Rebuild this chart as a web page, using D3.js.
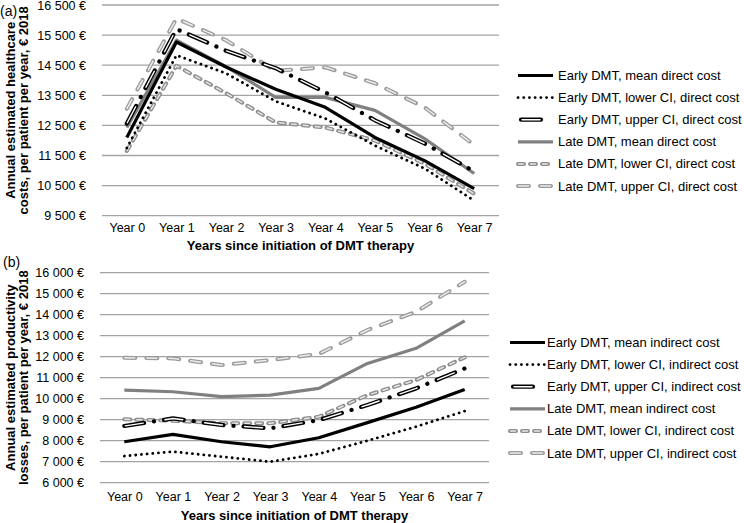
<!DOCTYPE html>
<html><head><meta charset="utf-8">
<script src="https://cdn.jsdelivr.net/npm/d3@7"></script>
<style>
body{margin:0;background:#fff;}
svg{font-family:"Liberation Sans",Arial,sans-serif;}
</style></head><body>
<svg id="c" width="744" height="523"></svg>
<script>
const years = ["Year 0","Year 1","Year 2","Year 3","Year 4","Year 5","Year 6","Year 7"];

// Panel (a): direct costs
const directTicks = [9500,10500,11500,12500,13500,14500,15500,16500];
const earlyMeanDirect  = [12100,15270,14440,13700,13100,12100,11330,10400];
const earlyLowerDirect = [11750,14830,14230,13300,12730,11830,11070,10000];
const earlyUpperDirect = [12560,15700,14980,14400,13600,12670,11900,10970];
const lateMeanDirect   = [12430,15330,14450,13430,13430,13000,12060,10900];
const lateLowerDirect  = [11650,14480,13570,12600,12430,12000,11230,10230];
const lateUpperDirect  = [13050,16050,15330,14310,14430,13900,13100,11850];

// Panel (b): indirect costs
const indirectTicks = [6000,7000,8000,9000,10000,11000,12000,13000,14000,15000,16000];
const earlyMeanIndirect  = [7950,8300,7950,7710,8140,8860,9590,10440];
const earlyLowerIndirect = [7270,7480,7240,7000,7370,8000,8670,9410];
const earlyUpperIndirect = [8700,9060,8750,8590,8980,9700,10490,11440];
const lateMeanIndirect   = [10410,10330,10100,10170,10490,11680,12400,13710];
const lateLowerIndirect  = [9020,8950,8830,8830,9140,10170,10890,11970];
const lateUpperIndirect  = [11950,11920,11600,11840,12130,13270,14140,15570];

const directLabels = ["Early DMT, mean direct cost","Early DMT, lower CI, direct cost","Early DMT, upper CI, direct cost","Late DMT, mean direct cost","Late DMT, lower CI, direct cost","Late DMT, upper CI, direct cost"];
const indirectLabels = ["Early DMT, mean indirect cost","Early DMT, lower CI, indirect cost","Early DMT, upper CI, indirect cost","Late DMT, mean indirect cost","Late DMT, lower CI, indirect cost","Late DMT, upper CI, indirect cost"];

const styles = [
  [{stroke:"#000",w:3.2}],
  [{stroke:"#000",w:2.8,dash:"0.1 5.6",cap:"round"}],
  [{stroke:"#000",w:4.2,dash:"20 10 0.1 10",cap:"round"},{stroke:"#fff",w:1.4,dash:"18 22.1",cap:"round",off:-1}],
  [{stroke:"#808080",w:3.2}],
  [{stroke:"#8c8c8c",w:4,dash:"6 6",cap:"round"},{stroke:"#e6e6e6",w:1.5,dash:"5 7",cap:"round",off:-0.5}],
  [{stroke:"#9a9a9a",w:4,dash:"11 11",cap:"round"},{stroke:"#ececec",w:1.5,dash:"10 12",cap:"round",off:-0.5}]
];
const legendSpan = [[0,35],[0,35],[3,24],[0,35],[0,35],[0,35]];

const svg = d3.select("#c");
const fmt = v => d3.format(",")(v).replace(/,/g," ") + " €";

function panel(opt){
  const x = d3.scalePoint().domain(years).range([opt.x0,opt.x1]).padding(0.5);
  const y = d3.scaleLinear().domain(opt.domain).range([opt.yb,opt.yt]);
  const g = svg.append("g");
  g.selectAll("line.grid").data(opt.ticks).join("line")
    .attr("x1",opt.x0).attr("x2",opt.x1).attr("y1",d=>y(d)).attr("y2",d=>y(d))
    .attr("stroke","#a3a3a3").attr("stroke-width",1.3);
  const ya = d3.axisLeft(y).tickValues(opt.ticks).tickFormat(fmt).tickSize(0).tickPadding(0);
  const yg = g.append("g").attr("transform",`translate(${opt.labelX},0)`).call(ya);
  yg.select(".domain").remove();
  yg.selectAll("text").attr("font-size",12.5).attr("fill","#000").attr("font-family","Liberation Sans, Arial, sans-serif");
  const xa = d3.axisBottom(x).tickSize(0).tickPadding(0);
  const xg = g.append("g").attr("transform",`translate(0,${opt.xLabelY})`).call(xa);
  xg.select(".domain").remove();
  xg.selectAll("text").attr("font-size",12.5).attr("fill","#000").attr("dy","0.35em").attr("y",0).attr("font-family","Liberation Sans, Arial, sans-serif");
  g.append("text").attr("x",(opt.x0+opt.x1)/2).attr("y",opt.xTitleY).attr("dy","0.35em")
    .attr("text-anchor","middle").attr("font-weight","bold").attr("font-size",13).text("Years since initiation of DMT therapy");
  const cy = (opt.yt+opt.yb)/2;
  opt.yTitle.forEach((t,i)=>{
    g.append("text").attr("transform",`translate(${10+i*13.5},${cy}) rotate(-90)`)
      .attr("text-anchor","middle").attr("dy","0.35em").attr("font-weight","bold").attr("font-size",13).text(t);
  });
  g.append("text").attr("x",opt.tagX).attr("y",opt.tagY).attr("dy","0.35em").attr("font-size",14).text(opt.tag);
  const line = d3.line().x((d,i)=>x(years[i])).y(d=>y(d));
  [5,4,3,2,1,0].forEach(si=>{
    styles[si].forEach(s=>{
      g.append("path").datum(opt.series[si]).attr("d",line).attr("fill","none")
        .attr("stroke",s.stroke).attr("stroke-width",s.w)
        .attr("stroke-dasharray",s.dash||null).attr("stroke-linecap",s.cap||"butt")
        .attr("stroke-dashoffset",s.off||0).attr("stroke-linejoin","round");
    });
  });
  opt.labels.forEach((lab,i)=>{
    const ly = opt.legY + i*opt.legStep;
    styles[i].forEach(s=>{
      g.append("line").attr("x1",opt.legX+legendSpan[i][0]).attr("x2",opt.legX+legendSpan[i][1]).attr("y1",ly).attr("y2",ly)
        .attr("stroke",s.stroke).attr("stroke-width",s.w)
        .attr("stroke-dasharray",s.dash||null).attr("stroke-linecap",s.cap||"butt").attr("stroke-dashoffset",s.off||0);
    });
    g.append("text").attr("x",opt.legX+opt.legText).attr("y",ly).attr("dy","0.35em").attr("font-size",13).text(lab);
  });
}

panel({x0:102,x1:499,yt:5,yb:215.7,domain:[9500,16500],ticks:directTicks,labelX:86,xLabelY:228,xTitleY:245,
  yTitle:["Annual estimated healthcare","costs, per patient per year, € 2018"],tag:"(a)",tagX:0,tagY:11,
  series:[earlyMeanDirect,earlyLowerDirect,earlyUpperDirect,lateMeanDirect,lateLowerDirect,lateUpperDirect],
  labels:directLabels,legX:518,legText:40,legY:75.5,legStep:22.1});

panel({x0:100,x1:489,yt:272.7,yb:482.7,domain:[6000,16000],ticks:indirectTicks,labelX:84,xLabelY:497,xTitleY:515,
  yTitle:["Annual estimated productivity","losses, per patient per year, € 2018"],tag:"(b)",tagX:3,tagY:262,
  series:[earlyMeanIndirect,earlyLowerIndirect,earlyUpperIndirect,lateMeanIndirect,lateLowerIndirect,lateUpperIndirect],
  labels:indirectLabels,legX:510,legText:37,legY:342.5,legStep:22.1});
</script>
</body></html>
